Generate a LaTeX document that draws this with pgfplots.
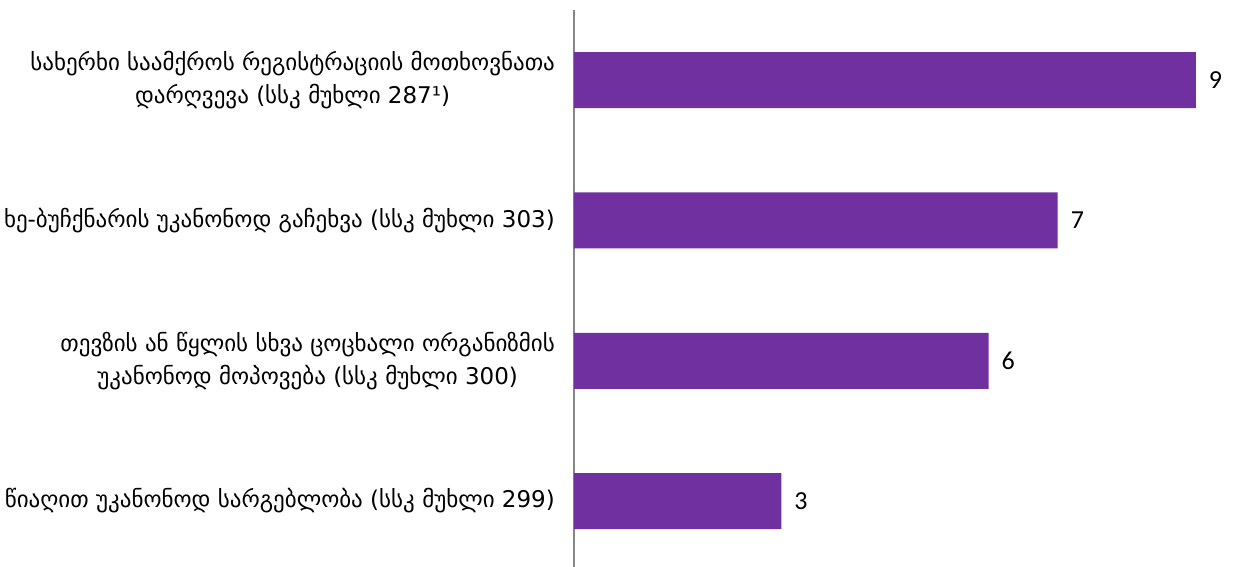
\documentclass[border=0pt]{standalone}
\usepackage{fontspec}
\setmainfont{DejaVu Sans}
\newfontfamily\numfont{Carlito}
\usepackage{pgfplots}
\pgfplotsset{compat=1.18}
\definecolor{barpurple}{HTML}{7030A0}
\definecolor{axisgray}{HTML}{868686}

\begin{document}
\begin{tikzpicture}
\useasboundingbox (0,0) rectangle (616.5pt,283.5pt);
\begin{axis}[
    at={(287pt,0pt)}, anchor=south west,
    scale only axis, width=329.5pt, height=278.5pt,
    xbar, bar width=28pt,
    xmin=0, xmax=9.537, ymin=-0.47, ymax=3.5,
    axis x line=none, axis y line*=left,
    axis line style={draw=axisgray, line width=0.8pt},
    ytick={0,1,2,3},
    yticklabels={
        {წიაღით უკანონოდ სარგებლობა (სსკ მუხლი 299)},
        {თევზის ან წყლის სხვა ცოცხალი ორგანიზმის\\უკანონოდ მოპოვება (სსკ მუხლი 300)},
        {ხე-ბუჩქნარის უკანონოდ გაჩეხვა (სსკ მუხლი 303)},
        {სახერხი საამქროს რეგისტრაციის მოთხოვნათა\\დარღვევა (სსკ მუხლი 287¹)}},
    yticklabel style={align=center, font=\fontsize{11.5}{16.5}\selectfont, xshift=-6pt},
    major tick length=0pt,
    /pgf/number format/assume math mode=true,
    nodes near coords,
    nodes near coords style={font=\numfont\fontsize{13}{15}\selectfont, anchor=west, xshift=3pt},
]
\addplot[fill=barpurple, draw=none] coordinates {(3,0) (6,1) (7,2) (9,3)};
\end{axis}
\end{tikzpicture}
\end{document}
